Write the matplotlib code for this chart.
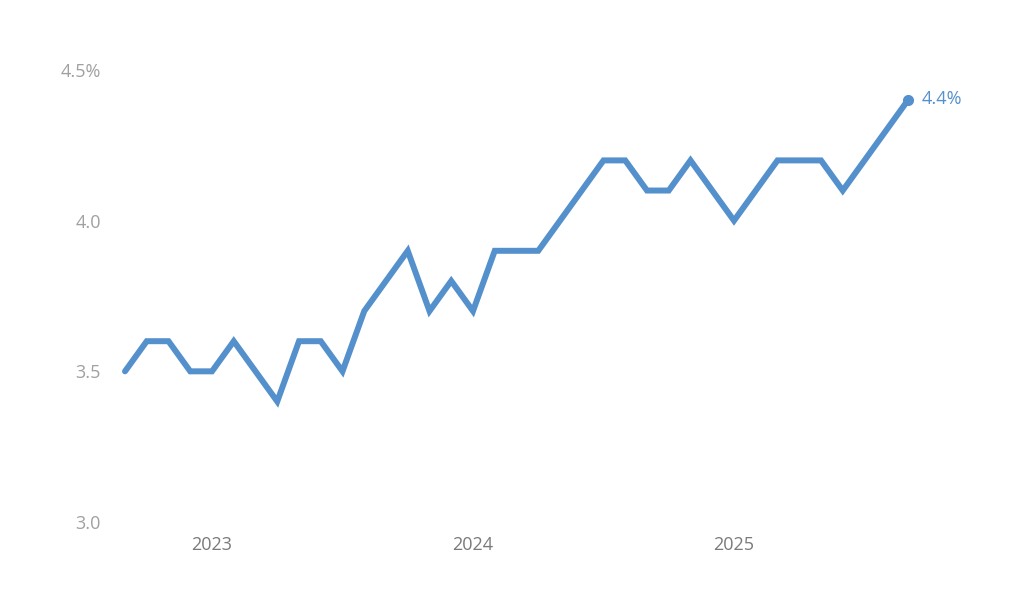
import numpy as np
import pandas as pd
import matplotlib
matplotlib.use("Agg")
import matplotlib.pyplot as plt

LINE, YTXT, XTXT = "#5490cc", "#a0a0a0", "#7a7a7a"
plt.rcParams.update({"font.family": ["Open Sans", "DejaVu Sans"], "font.size": 13})

# monthly unemployment rate, Sep 2022 - Sep 2025
months = pd.period_range("2022-09", "2025-09", freq="M")
rate = [3.5, 3.6, 3.6, 3.5, 3.5, 3.6, 3.5, 3.4, 3.6, 3.6, 3.5, 3.7,
        3.8, 3.9, 3.7, 3.8, 3.7, 3.9, 3.9, 3.9, 4.0, 4.1, 4.2, 4.2,
        4.1, 4.1, 4.2, 4.1, 4.0, 4.1, 4.2, 4.2, 4.2, 4.1, 4.2, 4.3, 4.4]
yticks = [3.0, 3.5, 4.0, 4.5]
ytick_labels = ["3.0", "3.5", "4.0", "4.5%"]

x = np.arange(len(months))
fig = plt.figure(figsize=(10.24, 6.12), dpi=100)
ax = fig.add_axes([101 / 1024, 90 / 612, 889 / 1024, 452 / 612])

ax.plot(x, rate, color=LINE, lw=4.3, solid_joinstyle="miter", solid_capstyle="round")
ax.plot(x[-1], rate[-1], "o", color=LINE, ms=7, clip_on=False)
ax.annotate(f"{rate[-1]:.1f}%", (x[-1], rate[-1]), xytext=(10, 1),
            textcoords="offset points", va="center", ha="left",
            color=LINE, fontsize=13)

ax.set_xlim(-24 / 21.75, 36 + 82 / 21.75)
ax.set_ylim(3.0, 4.5)
ax.set_yticks(yticks, ytick_labels, color=YTXT)
jan = [i for i, m in enumerate(months) if m.month == 1]
ax.set_xticks(x[jan], [str(months[i].year) for i in jan], color=XTXT)
ax.tick_params(length=0, pad=0)
ax.tick_params(axis="x", pad=10)
for s in ax.spines.values():
    s.set_visible(False)
ax.grid(False)

fig.savefig("out.png", dpi=100, facecolor="white")
